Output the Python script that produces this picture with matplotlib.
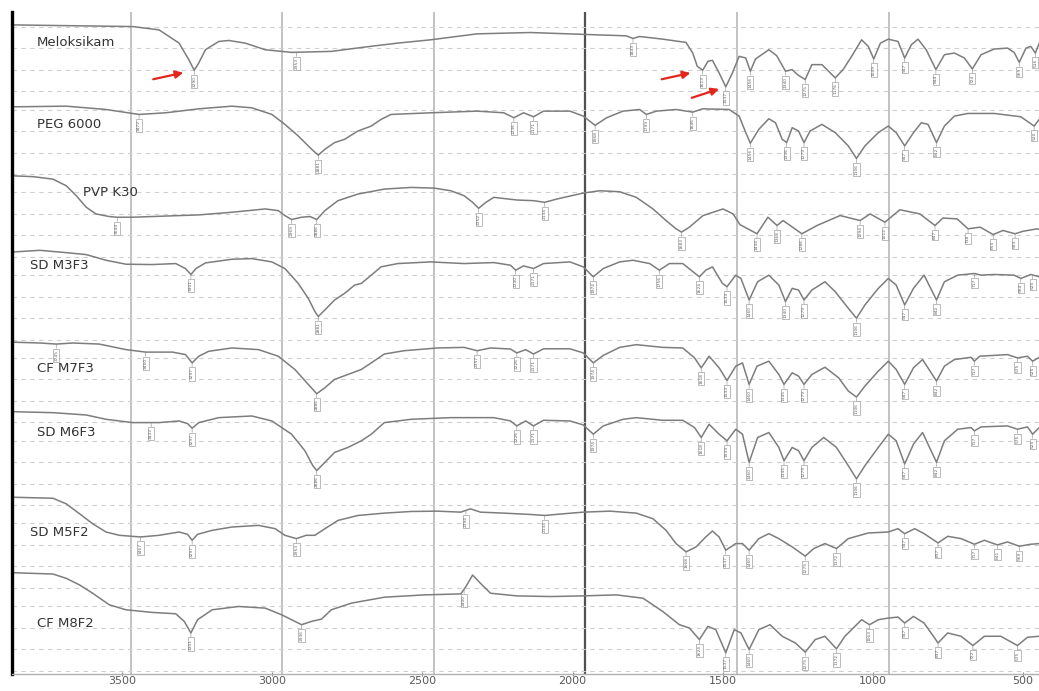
import numpy as np
import matplotlib
matplotlib.use("Agg")
import matplotlib.pyplot as plt

# ---------------- data (wavenumber cm-1, relative transmittance per panel) ----------------
sample_names = ["Meloksikam", "PEG 6000", "PVP K30", "SD M3F3",
                "CF M7F3", "SD M6F3", "SD M5F2", "CF M8F2"]

meloksikam_wn = [3887, 3493, 3406, 3340, 3308, 3290, 3275, 3253, 3209, 3176, 3122, 3056, 2969, 2838, 2728,
                 2619, 2510, 2357, 2182, 1963, 1865, 1843, 1821, 1745, 1668, 1646, 1631, 1613, 1596, 1581,
                 1559, 1537, 1515, 1493, 1471, 1456, 1439, 1395, 1369, 1340, 1318, 1301, 1275, 1253, 1220,
                 1176, 1150, 1122, 1089, 1067, 1049, 1027, 1001, 969, 947, 925, 903, 876, 844, 816,
                 783, 750, 724, 695, 652, 608, 586, 569, 547, 531, 516, 503]
meloksikam_t = [84.4, 82.4, 78.4, 62.4, 42.4, 29.6, 38.4, 54.4, 64.4, 65.6, 62.4, 54.4, 51.2, 52.4, 57.6,
                62.4, 66.4, 73.6, 75.2, 72.4, 71.2, 68, 70.4, 67.2, 63.2, 50.4, 34.4, 29.6, 40.4, 41.6,
                26.4, 9.6, 26.4, 46.4, 44.4, 28.4, 43.2, 54.4, 47.2, 28.4, 30.4, 24.4, 18.4, 36.4, 36.4,
                20.4, 30.4, 46.4, 66.4, 58.4, 43.2, 62.4, 67.2, 64.4, 44.4, 60.4, 67.2, 54.4, 30.4, 48.4,
                50.4, 44.4, 31.2, 48.4, 55.2, 56.4, 51.2, 39.2, 56.4, 58.4, 50.4, 62.4]
meloksikam_peaks = [3290, 2953, 1843, 1613, 1537, 1456, 1340, 1275, 1176, 1049, 947, 844, 724, 569, 516]

peg_wn = [3887, 3712, 3581, 3472, 3384, 3275, 3166, 3100, 3034, 2991, 2947, 2903, 2881, 2859, 2827,
          2794, 2750, 2706, 2674, 2641, 2510, 2357, 2269, 2236, 2204, 2171, 2138, 2051, 2007, 1968,
          1930, 1876, 1821, 1799, 1766, 1701, 1646, 1613, 1526, 1493, 1471, 1456, 1428, 1395, 1373,
          1351, 1336, 1318, 1297, 1279, 1259, 1220, 1176, 1133, 1106, 1078, 1034, 1001, 975, 947,
          918, 892, 870, 842, 816, 783, 739, 652, 564, 520, 503]
peg_t = [85.4, 86.2, 82.2, 76.2, 78.2, 83, 86.2, 84.2, 76.2, 64.2, 50.2, 34.2, 27, 34.2, 42.2,
         46.2, 56.2, 62.2, 70.2, 76.2, 78.2, 80.2, 78.2, 72.2, 78.2, 73.4, 80.2, 80.2, 74.2, 63,
         72.2, 80.2, 82.2, 76.2, 80.2, 82.2, 79, 83, 82.2, 74.2, 54.2, 41.4, 58.2, 71, 66.2,
         46.2, 42.2, 60.2, 56.2, 42.2, 56.2, 64.2, 54.2, 38.2, 23, 38.2, 54.2, 62.2, 54.2, 38.2,
         54.2, 66.2, 64.2, 42.2, 62.2, 74.2, 77.4, 77.4, 73.4, 62.2, 70.2]
peg_peaks = [3472, 2881, 2236, 2171, 1968, 1799, 1646, 1456, 1336, 1279, 1106, 947, 842, 520]

pvp_wn = [3887, 3821, 3756, 3712, 3679, 3646, 3614, 3570, 3544, 3493, 3275, 3166, 3056, 3013, 2991,
          2969, 2936, 2908, 2886, 2859, 2816, 2750, 2663, 2575, 2499, 2444, 2400, 2372, 2352, 2328,
          2302, 2226, 2171, 2134, 2094, 2007, 1952, 1887, 1832, 1777, 1734, 1701, 1683, 1657, 1612,
          1546, 1513, 1490, 1434, 1398, 1368, 1348, 1286, 1236, 1160, 1094, 1061, 1012, 963, 897,
          847, 821, 774, 738, 698, 655, 623, 583, 557, 510, 503]
pvp_t = [102, 101, 98, 90, 78, 64, 56, 52.8, 52, 52, 54.8, 58, 62, 60, 54,
         49.2, 52, 52.8, 49.2, 60, 72, 80, 86, 88, 87.2, 84, 78, 70, 62.8, 70,
         76, 72.8, 72, 70, 74, 81.2, 84, 82.8, 76, 62, 48, 38, 34, 40, 54,
         62, 56, 43, 32, 52, 42, 48, 32, 42, 54, 48, 56, 46, 61, 56,
         42, 51, 50, 38, 40, 31, 36, 32, 35, 38, 37]
pvp_peaks = [3544, 2969, 2886, 2352, 2134, 1683, 1434, 1368, 1286, 1094, 1012, 847, 738, 655, 583]

sdm3f3_wn = [3887, 3799, 3712, 3646, 3581, 3515, 3428, 3351, 3319, 3301, 3284, 3253, 3166, 3100, 3034,
             2991, 2947, 2914, 2892, 2881, 2859, 2827, 2794, 2761, 2739, 2706, 2674, 2619, 2510, 2400,
             2302, 2247, 2230, 2204, 2171, 2138, 2051, 2007, 1974, 1941, 1887, 1843, 1788, 1756, 1723,
             1679, 1624, 1603, 1581, 1548, 1533, 1504, 1487, 1460, 1432, 1395, 1362, 1340, 1318, 1297,
             1279, 1253, 1210, 1176, 1133, 1106, 1078, 1034, 1001, 975, 947, 918, 883, 842, 816,
             772, 717, 695, 652, 586, 564, 531, 503]
sdm3f3_t = [110, 112, 109.2, 106.8, 100, 95.2, 94.8, 96, 90, 82.8, 90, 96.8, 101.2, 102, 98,
            90, 72, 54, 38, 32, 40, 52, 60, 70, 72, 82, 92, 96, 98, 96,
            97.2, 94, 88, 93.2, 90, 96, 98, 92, 80, 90, 98, 100, 96, 88, 96,
            96, 80, 88, 92, 72, 68, 82, 78, 52, 74, 82, 70, 50, 66, 64,
            52, 64, 74, 62, 42, 30, 46, 66, 78, 70, 46, 66, 82, 52, 74,
            82, 84, 82, 82.8, 82, 78, 82.8, 80]
sdm3f3_peaks = [3301, 2881, 2230, 2171, 1974, 1756, 1624, 1533, 1460, 1340, 1279, 1106, 947, 842,
                717, 564, 525]

cfm7f3_wn = [3887, 3799, 3745, 3690, 3603, 3515, 3450, 3362, 3319, 3297, 3275, 3242, 3166, 3078, 3013,
             2958, 2914, 2886, 2859, 2827, 2783, 2739, 2706, 2663, 2597, 2488, 2400, 2357, 2313, 2247,
             2226, 2197, 2171, 2138, 2051, 2007, 1974, 1941, 1887, 1832, 1745, 1679, 1640, 1618, 1592,
             1559, 1533, 1504, 1482, 1460, 1434, 1395, 1362, 1345, 1318, 1297, 1279, 1253, 1210, 1165,
             1133, 1106, 1078, 1034, 1001, 975, 947, 918, 888, 842, 816, 783, 728, 717, 700,
             608, 575, 542, 525, 503]
cfm7f3_t = [101, 100, 98.7, 100, 98.7, 92, 89, 89, 86, 76, 84, 90, 94, 92, 84,
            68, 50, 38.7, 46, 56, 62, 68, 76, 86.7, 90.7, 94, 94.7, 90.7, 94, 92.7,
            88, 92, 86.7, 93, 93, 88, 76, 85, 94.7, 98, 94.7, 94, 82, 70, 84,
            70, 54.7, 72, 76, 50, 72, 78, 62, 50, 64, 60, 50, 62, 70.7, 58,
            42, 34.7, 48, 66, 78, 68, 50, 70, 80, 54, 72, 80, 82.7, 78, 84,
            86, 82, 84, 78, 82.7]
cfm7f3_peaks = [3745, 3450, 3297, 2886, 2357, 2226, 2171, 1974, 1618, 1533, 1460, 1345, 1279,
                1106, 947, 842, 717, 575, 525]

sdm6f3_wn = [3887, 3756, 3646, 3581, 3493, 3406, 3340, 3312, 3297, 3275, 3209, 3100, 3034, 2969, 2925,
             2899, 2886, 2859, 2827, 2783, 2739, 2706, 2663, 2575, 2444, 2302, 2247, 2226, 2197, 2171,
             2138, 2051, 2007, 1974, 1941, 1876, 1832, 1745, 1679, 1640, 1618, 1592, 1559, 1533, 1504,
             1482, 1460, 1432, 1395, 1362, 1345, 1318, 1297, 1279, 1253, 1214, 1172, 1133, 1106, 1078,
             1034, 1001, 975, 947, 918, 888, 842, 816, 772, 728, 717, 695, 608, 575, 542,
             525, 503]
sdm6f3_t = [117, 115.8, 113, 107.8, 103.8, 103.8, 105.8, 102.6, 97, 103.8, 109.8, 111.8, 105.8, 89.8, 69.8,
            51.8, 45.8, 55.8, 67.8, 73.8, 81.8, 89.8, 103.8, 107.8, 109.8, 109.8, 105.8, 99.8, 105.8, 99.8,
            106.6, 105.8, 101, 89.8, 99.8, 107.8, 109.8, 106.6, 106.6, 97.8, 85.8, 101.8, 89.8, 81.8, 95.8,
            89.8, 55.8, 85.8, 91.8, 73.8, 57.8, 73.8, 69.8, 57.8, 73.8, 85.8, 73.8, 51.8, 35.8, 51.8,
            73.8, 89.8, 81.8, 53.8, 77.8, 91.8, 55.8, 81.8, 95.8, 97.8, 93.8, 98.6, 99.8, 95.8, 98.6,
            89.8, 97.8]
sdm6f3_peaks = [3432, 3297, 2886, 2226, 2171, 1974, 1618, 1533, 1460, 1345, 1279, 1106, 947, 842,
                717, 575, 525]

sdm5f2_wn = [3887, 3756, 3712, 3668, 3625, 3581, 3537, 3467, 3406, 3340, 3312, 3297, 3279, 3231, 3166,
             3078, 3023, 2991, 2953, 2921, 2892, 2859, 2816, 2750, 2663, 2575, 2488, 2411, 2379, 2346,
             2269, 2182, 2134, 2073, 2007, 1919, 1832, 1777, 1734, 1701, 1668, 1635, 1603, 1581, 1559,
             1537, 1504, 1482, 1460, 1428, 1395, 1362, 1318, 1275, 1247, 1210, 1172, 1133, 1067, 1001,
             969, 947, 914, 883, 837, 805, 761, 717, 684, 641, 608, 569, 531, 503]
sdm5f2_t = [113.6, 112.4, 105.6, 93.6, 81.6, 71.6, 67.6, 65.6, 67.6, 71.6, 68.8, 61.6, 68.8, 73.6, 77.6,
            79.6, 75.6, 67.6, 63.6, 67.6, 67.6, 75.6, 85.6, 91.6, 94.4, 96.4, 96.8, 95.6, 99.6, 95.6,
            94.4, 92.8, 91.6, 93.6, 95.6, 96.8, 94.4, 87.6, 73.6, 57.6, 47.6, 53.6, 65.6, 72.8, 65.6,
            49.6, 57.6, 57.6, 49.6, 63.6, 69.6, 63.6, 53.6, 42.4, 51.6, 57.6, 51.6, 63.6, 70.4, 71.6,
            75.6, 69.6, 75.6, 69.6, 58.4, 66.4, 63.6, 56.8, 61.6, 56, 59.6, 54.4, 56.8, 57.6]
sdm5f2_peaks = [3467, 3297, 2953, 2394, 2134, 1668, 1537, 1460, 1275, 1172, 947, 837, 717, 641, 569]

cfm8f2_wn = [3887, 3756, 3712, 3668, 3625, 3570, 3515, 3428, 3351, 3323, 3301, 3279, 3231, 3144, 3056,
             3002, 2958, 2936, 2903, 2870, 2838, 2772, 2663, 2532, 2411, 2394, 2372, 2346, 2313, 2226,
             2116, 2007, 1898, 1810, 1745, 1690, 1657, 1624, 1596, 1570, 1537, 1509, 1487, 1460, 1428,
             1391, 1351, 1308, 1275, 1242, 1210, 1172, 1144, 1111, 1089, 1063, 1034, 1001, 969, 947,
             918, 883, 837, 805, 761, 722, 684, 630, 575, 542, 503]
cfm8f2_t = [122.4, 120.8, 115.6, 107.6, 97.6, 83.6, 77.6, 74.4, 72.8, 63.6, 49.6, 65.6, 77.6, 81.6, 79.6,
            71.6, 63.6, 59.6, 63.6, 66.4, 77.6, 85.6, 92.8, 95.6, 96.8, 105.6, 119.6, 109.6, 97.6, 94.4,
            93.6, 94.4, 95.6, 91.6, 75.6, 59.6, 55.6, 41.6, 57.6, 53.6, 25.6, 53.6, 49.6, 29.6, 53.6,
            59.6, 45.6, 37.6, 26.4, 41.6, 45.6, 30.4, 45.6, 57.6, 65.6, 59.6, 65.6, 67.6, 68.8, 61.6,
            69.6, 61.6, 37.6, 49.6, 45.6, 34.4, 45.6, 45.6, 34.4, 44.4, 45.6]
cfm8f2_peaks = [3301, 2936, 2400, 1624, 1537, 1460, 1275, 1172, 1063, 947, 837, 722, 575]

arrow_peaks = [3290, 1613, 1537]          # peaks of Meloksikam marked with red arrows
tick_values = [3500, 3000, 2500, 2000, 1500, 1000, 500]
tick_labels = ["3500", "3000", "2500", "2000", "1500", "1000", "500"]
grid_values = [3500, 3000, 2500, 2000, 1500, 1000]

spectra = [
    (sample_names[0], meloksikam_wn, meloksikam_t, meloksikam_peaks),
    (sample_names[1], peg_wn, peg_t, peg_peaks),
    (sample_names[2], pvp_wn, pvp_t, pvp_peaks),
    (sample_names[3], sdm3f3_wn, sdm3f3_t, sdm3f3_peaks),
    (sample_names[4], cfm7f3_wn, cfm7f3_t, cfm7f3_peaks),
    (sample_names[5], sdm6f3_wn, sdm6f3_t, sdm6f3_peaks),
    (sample_names[6], sdm5f2_wn, sdm5f2_t, sdm5f2_peaks),
    (sample_names[7], cfm8f2_wn, cfm8f2_t, cfm8f2_peaks),
]

# ---------------- layout / style ----------------
name_pos = [(3808, 63), (3808, 64), (3657, 82), (3831, 94),
            (3808, 69), (3808, 92), (3831, 71), (3808, 61)]
band_grid = [4, 30, 56, 82]

W, H = 1039, 691
fig = plt.figure(figsize=(W / 100, H / 100), dpi=100)
ax = fig.add_axes([12 / W, 17 / H, 1 - 12 / W, 662 / H])
ax.set_xlim(3891, 504)
ax.set_ylim(0, 800)
ax.set_xticks([])
ax.set_yticks([])
for s in ["top", "right", "bottom"]:
    ax.spines[s].set_visible(False)
ax.spines["left"].set_color("black")
ax.spines["left"].set_linewidth(2.4)

for g in grid_values:
    if g == 2000:
        ax.axvline(g, color="#505050", lw=1.6, zorder=0)
    else:
        ax.axvline(g, color="#b8b8b8", lw=1.2, zorder=0)

n = len(spectra)
for k, (name, wn, t, peaks) in enumerate(spectra):
    off = (n - 1 - k) * 100
    for g in band_grid:
        ax.axhline(off + g, color="#cfcfcf", lw=0.8, ls=(0, (4, 4)), zorder=0)
    wn_a = np.array(wn, dtype=float)
    t_a = np.array(t, dtype=float)
    ax.plot(wn_a, t_a + off, color="#7d7d7d", lw=1.1, zorder=2)
    for p in peaks:
        yv = np.interp(p, wn_a[::-1], t_a[::-1]) + off
        ax.annotate(str(p), xy=(p, yv), xytext=(0, -4), textcoords="offset points",
                    rotation=90, fontsize=3.2, ha="center", va="top", color="#666666",
                    bbox=dict(boxstyle="square,pad=0.25", fc="white", ec="#8a8a8a", lw=0.4),
                    arrowprops=dict(arrowstyle="-", lw=0.4, color="#8a8a8a", shrinkA=0, shrinkB=0),
                    zorder=3)
    nx, ny = name_pos[k]
    ax.text(nx, off + ny, name, fontsize=9.5, color="#333333", ha="left", va="center", zorder=4)

# red arrows on the Meloksikam panel
arrow_offsets = [((-41, -9), 8), ((-41, -9), 9), ((-34, -11), 5)]
for p, (dxy, shr) in zip(arrow_peaks, arrow_offsets):
    yv = np.interp(p, np.array(meloksikam_wn[::-1], float), np.array(meloksikam_t[::-1], float)) + 700
    ax.annotate("", xy=(p, yv), xytext=dxy, textcoords="offset pixels",
                arrowprops=dict(arrowstyle="-|>,head_length=0.45,head_width=0.22",
                                color="#e3261c", lw=1.6, shrinkA=0, shrinkB=shr),
                zorder=5)

# bottom wavenumber scale
ax2 = ax.twiny()
ax2.set_xlim(3866, 447)
ax2.xaxis.set_ticks_position("bottom")
ax2.set_xticks(tick_values)
ax2.set_xticklabels(tick_labels)
ax2.tick_params(axis="x", direction="inout", length=3, width=0.8, color="#888888",
                labelsize=8, labelcolor="#5a5a5a", pad=0)
for s in ["top", "right", "left"]:
    ax2.spines[s].set_visible(False)
ax2.spines["bottom"].set_color("#b0b0b0")
ax2.spines["bottom"].set_linewidth(1.0)
ax2.set_yticks([])

fig.savefig("out.png", dpi=100)
